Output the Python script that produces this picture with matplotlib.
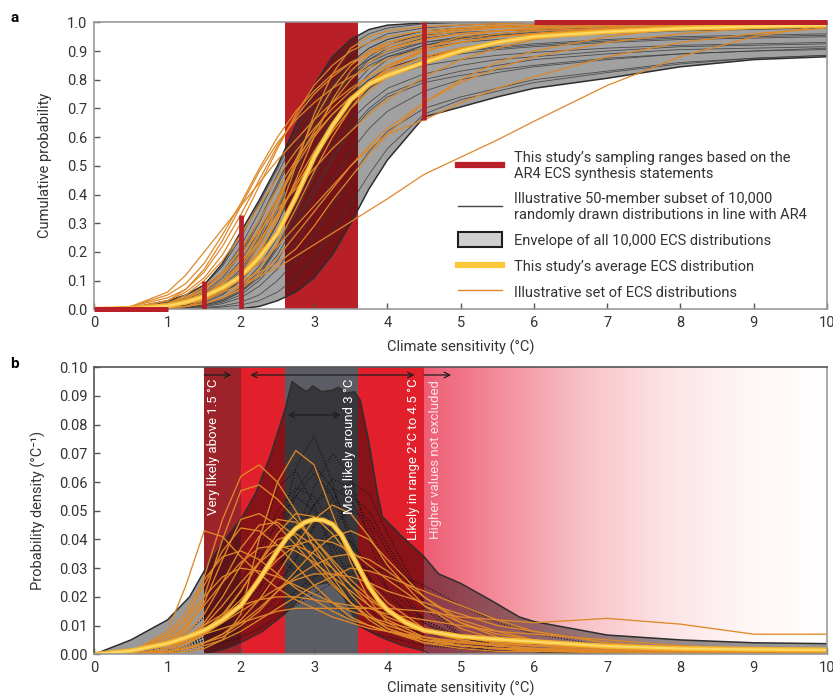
import numpy as np
import matplotlib
matplotlib.use('Agg')
import matplotlib.pyplot as plt
from matplotlib.patches import Patch
from matplotlib.lines import Line2D
from matplotlib.colors import LinearSegmentedColormap

plt.rcParams['font.family'] = ['Roboto', 'DejaVu Sans']
plt.rcParams['font.size'] = 10

# common grid of climate sensitivity values (degC) the curves were read at
ecs = [0, 0.5, 1, 1.25, 1.5, 1.75, 2, 2.25, 2.5, 2.75, 3, 3.25, 3.5, 3.75, 4,
       4.5, 5, 5.5, 6, 7, 8, 9, 10]

# ---- panel a: cumulative probability ----
env_cdf_hi = [0, 0.005, 0.03, 0.05, 0.085, 0.16, 0.27, 0.38, 0.50, 0.64, 0.78, 0.88,
              0.94, 0.975, 0.99, 0.998, 1, 1, 1, 1, 1, 1, 1]
env_cdf_lo = [0, 0, 0, 0, 0, 0, 0.002, 0.01, 0.03, 0.06, 0.11, 0.19, 0.30, 0.42,
              0.52, 0.67, 0.705, 0.74, 0.77, 0.805, 0.845, 0.87, 0.88]

gray_cdf = [
    [0, 0.004, 0.025, 0.05, 0.085, 0.15, 0.25, 0.37, 0.49, 0.62, 0.75, 0.85, 0.92, 0.96, 0.98, 0.995, 1, 1, 1, 1, 1, 1, 1],
    [0, 0.003, 0.02, 0.04, 0.07, 0.12, 0.20, 0.31, 0.44, 0.57, 0.69, 0.79, 0.86, 0.91, 0.94, 0.97, 0.98, 0.985, 0.99, 0.995, 1, 1, 1],
    [0, 0.002, 0.015, 0.03, 0.055, 0.10, 0.17, 0.27, 0.39, 0.52, 0.64, 0.74, 0.81, 0.86, 0.89, 0.93, 0.95, 0.96, 0.97, 0.98, 0.985, 0.99, 0.99],
    [0, 0.002, 0.01, 0.02, 0.04, 0.075, 0.13, 0.22, 0.34, 0.48, 0.61, 0.72, 0.80, 0.85, 0.88, 0.91, 0.93, 0.94, 0.95, 0.96, 0.97, 0.975, 0.98],
    [0, 0.001, 0.008, 0.015, 0.03, 0.06, 0.11, 0.19, 0.30, 0.43, 0.56, 0.67, 0.75, 0.80, 0.84, 0.88, 0.90, 0.915, 0.925, 0.94, 0.95, 0.955, 0.96],
    [0, 0.001, 0.005, 0.01, 0.02, 0.04, 0.08, 0.15, 0.25, 0.38, 0.51, 0.62, 0.71, 0.77, 0.81, 0.85, 0.87, 0.885, 0.895, 0.91, 0.92, 0.925, 0.93],
    [0, 0.001, 0.004, 0.008, 0.015, 0.03, 0.06, 0.11, 0.19, 0.30, 0.42, 0.53, 0.63, 0.70, 0.75, 0.80, 0.83, 0.85, 0.87, 0.89, 0.905, 0.91, 0.915],
    [0, 0, 0.002, 0.005, 0.01, 0.02, 0.04, 0.08, 0.14, 0.23, 0.34, 0.45, 0.55, 0.63, 0.69, 0.76, 0.80, 0.825, 0.845, 0.87, 0.89, 0.90, 0.905],
    [0, 0.003, 0.02, 0.035, 0.06, 0.10, 0.16, 0.24, 0.35, 0.48, 0.61, 0.73, 0.82, 0.88, 0.92, 0.96, 0.975, 0.985, 0.99, 0.995, 1, 1, 1],
    [0, 0.002, 0.012, 0.025, 0.045, 0.08, 0.14, 0.23, 0.36, 0.50, 0.64, 0.76, 0.85, 0.90, 0.93, 0.955, 0.965, 0.97, 0.975, 0.98, 0.985, 0.99, 0.99],
    [0, 0.001, 0.006, 0.012, 0.025, 0.05, 0.10, 0.18, 0.30, 0.45, 0.60, 0.72, 0.81, 0.87, 0.91, 0.945, 0.96, 0.97, 0.975, 0.98, 0.985, 0.985, 0.99],
    [0, 0.001, 0.005, 0.01, 0.02, 0.035, 0.065, 0.12, 0.21, 0.33, 0.47, 0.60, 0.70, 0.77, 0.82, 0.87, 0.89, 0.905, 0.915, 0.93, 0.94, 0.945, 0.95],
    [0, 0.002, 0.01, 0.02, 0.035, 0.065, 0.11, 0.18, 0.28, 0.40, 0.53, 0.65, 0.75, 0.82, 0.87, 0.92, 0.945, 0.955, 0.965, 0.975, 0.98, 0.985, 0.99],
    [0, 0.001, 0.003, 0.006, 0.012, 0.025, 0.05, 0.10, 0.17, 0.28, 0.40, 0.52, 0.62, 0.69, 0.74, 0.79, 0.815, 0.835, 0.85, 0.875, 0.89, 0.90, 0.91],
    [0, 0, 0.001, 0.003, 0.006, 0.012, 0.025, 0.05, 0.10, 0.17, 0.26, 0.36, 0.46, 0.55, 0.62, 0.70, 0.74, 0.77, 0.80, 0.83, 0.86, 0.875, 0.885],
    [0, 0, 0, 0.002, 0.004, 0.008, 0.015, 0.03, 0.06, 0.11, 0.18, 0.27, 0.37, 0.47, 0.56, 0.68, 0.73, 0.76, 0.79, 0.825, 0.855, 0.875, 0.885],
    [0, 0.002, 0.012, 0.025, 0.05, 0.09, 0.15, 0.25, 0.38, 0.53, 0.67, 0.78, 0.86, 0.91, 0.94, 0.97, 0.98, 0.985, 0.99, 0.99, 0.995, 1, 1],
    [0, 0.001, 0.008, 0.016, 0.03, 0.055, 0.10, 0.17, 0.27, 0.40, 0.54, 0.67, 0.77, 0.84, 0.88, 0.92, 0.94, 0.95, 0.96, 0.97, 0.975, 0.98, 0.985],
    [0, 0.001, 0.004, 0.008, 0.016, 0.03, 0.06, 0.12, 0.22, 0.36, 0.51, 0.64, 0.74, 0.80, 0.84, 0.88, 0.90, 0.91, 0.92, 0.935, 0.945, 0.95, 0.955],
    [0, 0.002, 0.015, 0.03, 0.06, 0.11, 0.19, 0.30, 0.43, 0.56, 0.68, 0.77, 0.83, 0.87, 0.90, 0.93, 0.945, 0.955, 0.96, 0.97, 0.975, 0.98, 0.98],
    [0, 0.001, 0.005, 0.01, 0.02, 0.04, 0.075, 0.13, 0.22, 0.34, 0.46, 0.57, 0.66, 0.72, 0.77, 0.82, 0.85, 0.87, 0.88, 0.90, 0.915, 0.92, 0.925],
    [0, 0.003, 0.02, 0.04, 0.075, 0.13, 0.22, 0.34, 0.47, 0.60, 0.72, 0.82, 0.89, 0.93, 0.96, 0.98, 0.99, 0.995, 1, 1, 1, 1, 1],
]

orange_cdf = [
    [0, 0.01, 0.05, 0.09, 0.16, 0.26, 0.37, 0.49, 0.60, 0.69, 0.76, 0.82, 0.86, 0.89, 0.91, 0.94, 0.96, 0.97, 0.975, 0.985, 0.99, 0.995, 1],
    [0, 0.01, 0.04, 0.07, 0.13, 0.22, 0.33, 0.45, 0.57, 0.67, 0.75, 0.81, 0.86, 0.89, 0.92, 0.95, 0.97, 0.98, 0.985, 0.99, 0.995, 1, 1],
    [0, 0.01, 0.06, 0.12, 0.20, 0.28, 0.36, 0.44, 0.52, 0.59, 0.66, 0.72, 0.77, 0.81, 0.85, 0.90, 0.93, 0.95, 0.96, 0.975, 0.985, 0.99, 0.995],
    [0, 0.005, 0.03, 0.06, 0.11, 0.19, 0.30, 0.43, 0.56, 0.68, 0.78, 0.85, 0.90, 0.93, 0.95, 0.97, 0.98, 0.985, 0.99, 0.995, 1, 1, 1],
    [0, 0.003, 0.02, 0.04, 0.07, 0.12, 0.19, 0.28, 0.39, 0.51, 0.62, 0.72, 0.80, 0.86, 0.90, 0.94, 0.96, 0.97, 0.98, 0.99, 0.995, 1, 1],
    [0, 0.002, 0.01, 0.02, 0.04, 0.07, 0.12, 0.20, 0.31, 0.45, 0.60, 0.73, 0.83, 0.89, 0.93, 0.96, 0.975, 0.985, 0.99, 0.995, 1, 1, 1],
    [0, 0.003, 0.015, 0.03, 0.06, 0.10, 0.16, 0.24, 0.33, 0.43, 0.53, 0.62, 0.70, 0.76, 0.81, 0.87, 0.91, 0.93, 0.95, 0.97, 0.98, 0.99, 0.995],
    [0, 0.002, 0.01, 0.02, 0.03, 0.06, 0.11, 0.19, 0.32, 0.50, 0.68, 0.82, 0.91, 0.95, 0.97, 0.985, 0.99, 0.995, 1, 1, 1, 1, 1],
    [0, 0.003, 0.02, 0.04, 0.08, 0.13, 0.21, 0.31, 0.42, 0.52, 0.61, 0.68, 0.74, 0.79, 0.83, 0.88, 0.91, 0.93, 0.95, 0.97, 0.98, 0.985, 0.99],
    [0, 0.002, 0.01, 0.02, 0.04, 0.07, 0.11, 0.16, 0.22, 0.29, 0.36, 0.43, 0.50, 0.56, 0.61, 0.66, 0.72, 0.77, 0.81, 0.88, 0.93, 0.96, 0.98],
    [0, 0, 0.01, 0.02, 0.035, 0.06, 0.085, 0.115, 0.145, 0.185, 0.225, 0.265, 0.305, 0.345, 0.385, 0.47, 0.53, 0.59, 0.655, 0.78, 0.88, 0.95, 0.99],
    [0, 0.002, 0.01, 0.025, 0.05, 0.09, 0.15, 0.23, 0.33, 0.44, 0.55, 0.65, 0.73, 0.79, 0.84, 0.90, 0.93, 0.95, 0.96, 0.98, 0.99, 0.995, 1],
    [0, 0.001, 0.005, 0.01, 0.02, 0.04, 0.08, 0.14, 0.23, 0.35, 0.48, 0.60, 0.70, 0.78, 0.84, 0.91, 0.95, 0.97, 0.98, 0.99, 1, 1, 1],
    [0, 0.005, 0.03, 0.07, 0.14, 0.24, 0.36, 0.48, 0.58, 0.66, 0.72, 0.77, 0.81, 0.84, 0.87, 0.91, 0.94, 0.96, 0.97, 0.98, 0.99, 0.995, 1],
    [0, 0.001, 0.005, 0.01, 0.02, 0.04, 0.07, 0.12, 0.18, 0.26, 0.34, 0.42, 0.50, 0.57, 0.63, 0.72, 0.79, 0.84, 0.88, 0.93, 0.96, 0.98, 0.99],
    [0, 0.001, 0.005, 0.01, 0.03, 0.06, 0.12, 0.22, 0.36, 0.52, 0.66, 0.77, 0.85, 0.90, 0.93, 0.96, 0.98, 0.99, 0.99, 1, 1, 1, 1],
    [0, 0.004, 0.02, 0.05, 0.10, 0.17, 0.26, 0.36, 0.46, 0.55, 0.63, 0.70, 0.76, 0.81, 0.85, 0.90, 0.93, 0.95, 0.96, 0.98, 0.99, 0.99, 1],
    [0, 0.002, 0.01, 0.02, 0.05, 0.09, 0.16, 0.26, 0.38, 0.50, 0.60, 0.68, 0.74, 0.79, 0.83, 0.88, 0.91, 0.93, 0.95, 0.97, 0.98, 0.99, 0.995],
    [0, 0.002, 0.01, 0.02, 0.04, 0.07, 0.10, 0.13, 0.16, 0.21, 0.29, 0.38, 0.46, 0.54, 0.61, 0.72, 0.80, 0.86, 0.90, 0.95, 0.98, 0.99, 1],
    [0, 0.003, 0.015, 0.035, 0.07, 0.12, 0.19, 0.27, 0.35, 0.42, 0.49, 0.56, 0.62, 0.68, 0.73, 0.81, 0.87, 0.91, 0.94, 0.97, 0.985, 0.99, 1],
]

mean_cdf = [0, 0.003, 0.012, 0.025, 0.045, 0.075, 0.115, 0.18, 0.265, 0.39, 0.53, 0.64,
            0.73, 0.785, 0.815, 0.86, 0.90, 0.93, 0.95, 0.967, 0.979, 0.985, 0.99]

# AR4 sampling ranges: (x, y0, y1) for vertical marks, (x0, x1, y) for horizontal
range_vbars = [(1.5, 0, 0.1), (2.0, 0, 0.33), (4.5, 0.66, 1.0)]
range_hbars = [(0, 1, 0.0), (6, 10, 1.0)]
range_block = (2.6, 3.6)

# ---- panel b: probability density (values x 1e-3) ----
env_pdf_x = [0, 0.5, 1.0, 1.3, 1.5, 1.75, 2.0, 2.2, 2.4, 2.6, 2.7, 2.8, 2.9, 2.98, 3.1,
             3.25, 3.33, 3.45, 3.55, 3.63, 3.75, 3.85, 3.93, 4.2, 4.5, 4.7, 5.0, 5.4,
             5.8, 6.0, 7.0, 8.0, 9.0, 10.0]
env_pdf_hi = [0, 5, 12, 20, 29, 39, 47, 56, 69, 85, 95, 93, 91.5, 93.5, 91.5, 92, 93,
              91, 91.5, 88.5, 73.5, 58, 48, 41, 34, 28, 24.7, 19, 13, 11.4, 6.7, 5, 4, 3.7]
env_pdf_lo_x = [0, 1.5, 1.8, 2.0, 2.3, 2.6, 2.8, 3.0, 3.2, 3.4, 3.6, 3.9, 4.2, 4.45, 4.6, 10]
env_pdf_lo = [0, 0, 2, 4, 8, 14, 19, 24, 25, 20, 10, 6, 3, 1.5, 0, 0]

gray_pdf = [
    [0, 0, 1, 2, 4, 7, 12, 22, 40, 65, 76, 60, 38, 22, 12, 5, 2, 1, 1, 0, 0, 0, 0],
    [0, 0, 1, 2, 3, 6, 10, 17, 28, 42, 58, 70, 62, 40, 22, 8, 3, 1, 1, 0, 0, 0, 0],
    [0, 0, 1, 2, 4, 8, 14, 25, 40, 55, 63, 55, 40, 26, 15, 6, 3, 1, 1, 0, 0, 0, 0],
    [0, 0, 1, 2, 4, 7, 12, 20, 30, 42, 52, 58, 54, 42, 28, 11, 4, 2, 1, 0, 0, 0, 0],
    [0, 0, 1, 3, 6, 11, 20, 33, 47, 55, 50, 38, 26, 16, 10, 4, 2, 1, 1, 0, 0, 0, 0],
    [0, 0, 1, 2, 3, 5, 8, 13, 20, 28, 37, 45, 50, 47, 36, 16, 6, 3, 1, 0, 0, 0, 0],
    [0, 0, 2, 4, 8, 15, 25, 37, 45, 44, 36, 27, 19, 13, 8, 4, 2, 1, 1, 0, 0, 0, 0],
    [0, 0, 1, 3, 6, 10, 16, 23, 31, 37, 40, 38, 33, 27, 20, 11, 5, 3, 2, 1, 0, 0, 0],
    [0, 1, 3, 7, 13, 21, 30, 35, 34, 29, 23, 17, 12, 8, 6, 3, 2, 1, 1, 0, 0, 0, 0],
    [0, 0, 1, 1, 2, 4, 6, 9, 13, 17, 21, 25, 28, 30, 29, 24, 17, 11, 7, 3, 1, 1, 0],
    [0, 0, 1, 2, 5, 10, 20, 38, 58, 64, 52, 35, 22, 13, 8, 4, 2, 1, 1, 0, 0, 0, 0],
    [0, 0, 1, 2, 3, 5, 8, 12, 17, 22, 27, 30, 31, 30, 27, 22, 17, 12, 8, 4, 2, 1, 1],
    [0, 0, 1, 2, 4, 7, 11, 18, 28, 40, 52, 61, 58, 45, 30, 12, 5, 2, 1, 0, 0, 0, 0],
    [0, 0, 1, 3, 5, 9, 16, 27, 42, 57, 66, 58, 42, 27, 16, 6, 2, 1, 1, 0, 0, 0, 0],
    [0, 0, 1, 2, 4, 6, 10, 16, 24, 34, 45, 54, 60, 56, 42, 18, 6, 2, 1, 0, 0, 0, 0],
    [0, 1, 2, 4, 8, 13, 20, 29, 38, 45, 48, 45, 39, 31, 23, 12, 6, 3, 2, 1, 0, 0, 0],
    [0, 0, 1, 3, 6, 12, 22, 36, 50, 58, 55, 45, 33, 22, 14, 6, 3, 1, 1, 0, 0, 0, 0],
    [0, 0, 1, 2, 3, 5, 9, 15, 23, 33, 44, 52, 55, 50, 38, 18, 7, 3, 1, 0, 0, 0, 0],
]

orange_pdf = [
    [0, 0.5, 8, 24, 43, 41, 34, 28, 23, 19, 16, 13, 11, 9, 8, 6, 4.5, 3.5, 3, 2, 1.5, 1, 1],
    [0, 1, 4, 10, 27, 47, 62, 66, 60, 50, 37, 27, 18, 12, 8, 4, 3, 2, 1.5, 1, 1, 0.5, 0.5],
    [0, 1, 3, 8, 20, 40, 57, 59, 54, 47, 40, 33, 26, 20, 15, 9, 6, 4, 3, 2, 1, 1, 0.5],
    [0, 0, 0.5, 1, 2, 5, 14, 40, 60, 71, 66, 49, 32, 19, 11, 5, 3, 2, 1.5, 1, 0.5, 0.5, 0.5],
    [0, 0, 1, 2, 4, 7, 12, 19, 28, 38, 47, 52, 49, 41, 31, 17, 9, 5, 3, 2, 1, 1, 0.5],
    [0, 1, 4, 9, 18, 33, 47, 49, 45, 38, 31, 24, 18, 13, 10, 6, 4, 3, 2, 1, 1, 1, 0.5],
    [0, 0, 2, 4, 8, 14, 22, 32, 42, 49, 48, 42, 34, 25, 18, 9, 5, 3, 2, 1, 1, 0.5, 0.5],
    [0, 1, 6, 13, 24, 36, 44, 43, 38, 31, 24, 18, 13, 10, 8, 5, 3, 2, 2, 1, 1, 1, 1],
    [0, 0, 2, 5, 11, 20, 31, 41, 47, 46, 40, 32, 24, 17, 12, 6, 3, 2, 1, 1, 0.5, 0.5, 0.5],
    [0, 0, 2, 4, 8, 13, 19, 26, 33, 38, 40, 39, 36, 31, 26, 17, 11, 7, 5, 2, 1, 1, 0.5],
    [0, 1, 5, 10, 17, 25, 32, 37, 38, 36, 32, 27, 22, 17, 13, 8, 5, 3, 2, 1, 1, 0.5, 0.5],
    [0, 0, 1, 2, 4, 7, 11, 16, 22, 27, 31, 34, 35, 33, 29, 20, 12, 8, 5, 2, 1, 0.5, 0.5],
    [0, 0, 1, 3, 7, 13, 22, 32, 40, 42, 38, 30, 21, 14, 9, 4, 2, 1, 1, 0.5, 0, 0, 0],
    [0, 1, 3, 6, 10, 14, 17, 19, 20, 20, 19, 18, 17, 16, 14, 12, 10, 8, 7, 5, 3, 2, 1],
    [0, 1, 6, 12, 20, 27, 30, 29, 27, 24, 21, 18, 15, 13, 11, 8, 6, 5, 4, 3, 2, 1.5, 1],
    [0, 1, 3, 5, 7, 9, 11, 13, 15, 16, 16, 16, 16, 16, 16, 15, 13, 12, 11, 12.5, 10.5, 7, 7],
    [0, 0, 1, 2, 4, 6, 10, 15, 22, 29, 36, 41, 43, 40, 33, 20, 11, 6, 3, 1, 1, 0.5, 0.5],
    [0, 0, 2, 5, 10, 17, 25, 32, 37, 38, 35, 30, 24, 19, 15, 9, 6, 4, 3, 2, 1, 1, 0.5],
    [0, 0, 2, 4, 7, 11, 15, 19, 23, 26, 28, 28, 27, 25, 22, 18, 14, 10, 8, 4, 2, 1, 1],
    [0, 1, 3, 7, 14, 25, 37, 45, 46, 41, 33, 25, 18, 13, 9, 5, 3, 2, 1, 1, 0.5, 0.5, 0.5],
    [0, 0, 1, 2, 3, 5, 8, 12, 16, 20, 24, 27, 30, 29, 27, 22, 17, 12, 8, 4, 2, 1, 0.5],
    [0, 1, 7, 15, 26, 34, 36, 33, 28, 23, 19, 15, 12, 10, 8, 5, 4, 3, 2, 1.5, 1, 1, 1],
]

# average distribution, read on a finer grid around its peak
mean_pdf_x = [0, 0.5, 1, 1.25, 1.5, 1.75, 2, 2.25, 2.5, 2.625, 2.75, 2.875, 3, 3.125,
              3.25, 3.375, 3.5, 3.625, 3.75, 3.875, 4, 4.25, 4.5, 5, 5.5, 6, 7, 8, 9, 10]
mean_pdf = [0, 1.2, 3.8, 5.8, 8.3, 12, 17, 26, 36, 40.5, 43.8, 46, 47, 46.7, 45.3, 41.5,
            35.5, 29.5, 23.5, 19, 15.5, 11, 8.3, 6.2, 5.2, 4.4, 2.8, 2.0, 1.7, 1.5]

# AR4 statement bands behind panel b
band_edges = [1.5, 2.0, 2.6, 3.6, 4.5]
band_colors = ['#9d232a', '#e2202b', '#5c5d64', '#e2202b']
tail_start = 4.5
tail_colors = ['#ee5d74', '#f3919e', '#f8c3c8', '#fce3e5', '#fff6f6', '#ffffff']

RED = '#b81f26'
ORANGE = '#de8828'
GRAYLINE = '#3c3c3c'
TXT = '#333333'

fig = plt.figure(figsize=(8.33, 6.97), dpi=100)
ax_a = fig.add_axes([0.1132, 0.5562, 0.8796, 0.4118])
ax_b = fig.add_axes([0.1132, 0.0613, 0.8796, 0.4118])

# ----- panel a -----
ax_a.axvspan(range_block[0], range_block[1], color=RED, lw=0, zorder=0)
ax_a.fill(np.concatenate([ecs, ecs[::-1]]),
          np.concatenate([env_cdf_hi, env_cdf_lo[::-1]]),
          facecolor=(0, 0, 0, 0.37), edgecolor='#2e2e2e', lw=1.1, zorder=1)
for c in gray_cdf:
    ax_a.plot(ecs, c, color=GRAYLINE, lw=0.6, alpha=0.85, zorder=2)
for c in orange_cdf:
    ax_a.plot(ecs, c, color=ORANGE, lw=0.9, zorder=3)
ax_a.plot(ecs, mean_cdf, color='#f5b52e', lw=3.6, zorder=4, solid_capstyle='round')
ax_a.plot(ecs, mean_cdf, color='#ffd966', lw=1.6, zorder=4)
for x, y0, y1 in range_vbars:
    ax_a.plot([x, x], [y0, y1], color=RED, lw=3.4, solid_capstyle='butt', zorder=9)
for x0, x1, y in range_hbars:
    ax_a.plot([x0, x1], [y, y], color=RED, lw=3.6, solid_capstyle='butt',
              clip_on=False, zorder=9)

ax_a.set_xlim(0, 10)
ax_a.set_ylim(0, 1.0)
ax_a.set_xticks(range(11))
ax_a.set_yticks(np.arange(0, 1.01, 0.1))
ax_a.set_yticklabels(['%.1f' % v for v in np.arange(0, 1.01, 0.1)])
ax_a.set_ylabel('Cumulative probability', color=TXT, fontsize=10.5)
ax_a.yaxis.set_label_coords(-0.058, 0.5)
ax_a.set_xlabel('Climate sensitivity (°C)', color=TXT, fontsize=10.5)
ax_a.xaxis.set_label_coords(0.5, -0.105)

handles = [Line2D([], [], color=RED, lw=4.5),
           Line2D([], [], color='#444444', lw=1.0),
           Patch(facecolor='#cfcfd1', edgecolor='#1e1e1e', lw=1.5),
           Line2D([], [], color='#fcc83a', lw=4.5),
           Line2D([], [], color=ORANGE, lw=1.0)]
labels = ['This study’s sampling ranges based on the\nAR4 ECS synthesis statements',
          'Illustrative 50-member subset of 10,000\nrandomly drawn distributions in line with AR4',
          'Envelope of all 10,000 ECS distributions',
          'This study’s average ECS distribution',
          'Illustrative set of ECS distributions']
leg = ax_a.legend(handles, labels, loc='lower left', bbox_to_anchor=(0.479, -0.012),
                  frameon=False, handlelength=3.0, handleheight=1.2,
                  handletextpad=0.8, labelspacing=0.72, fontsize=10.5)
for t in leg.get_texts():
    t.set_color(TXT)
    t.set_linespacing(1.2)

# ----- panel b -----
for i, col in enumerate(band_colors):
    ax_b.axvspan(band_edges[i], band_edges[i + 1], color=col, lw=0, zorder=0)
tail_cmap = LinearSegmentedColormap.from_list('tail', tail_colors)
ax_b.imshow(np.linspace(0, 1, 256).reshape(1, -1), extent=[tail_start, 10, 0, 0.1],
            aspect='auto', cmap=tail_cmap, zorder=0)

env_x = np.concatenate([env_pdf_x, env_pdf_lo_x[::-1]])
env_y = np.concatenate([env_pdf_hi, env_pdf_lo[::-1]]) * 1e-3
ax_b.fill(env_x, env_y, facecolor=(0, 0, 0, 0.4), edgecolor='none', zorder=1)
ax_b.plot(env_pdf_x, np.array(env_pdf_hi) * 1e-3, color='#2e2e2e', lw=1.1, zorder=1)
ax_b.plot(env_pdf_lo_x, np.array(env_pdf_lo) * 1e-3, color='#2e2e2e', lw=0.8, zorder=1)

for c in gray_pdf:
    ax_b.plot(ecs, np.array(c) * 1e-3, color='#141414', lw=0.8, ls=':', zorder=2)
for c in orange_pdf:
    ax_b.plot(ecs, np.array(c) * 1e-3, color=ORANGE, lw=0.95, zorder=3)
ax_b.plot(mean_pdf_x, np.array(mean_pdf) * 1e-3, color='#f5b52e', lw=3.6, zorder=4)
ax_b.plot(mean_pdf_x, np.array(mean_pdf) * 1e-3, color='#ffd966', lw=1.6, zorder=4)

# arrows and statements
arrow_kw = dict(color='#1e1e1e', lw=0.9, shrinkA=0, shrinkB=0)
ax_b.annotate('', xy=(1.87, 0.0973), xytext=(1.5, 0.0973),
              arrowprops=dict(arrowstyle='->', **arrow_kw), zorder=6)
ax_b.annotate('', xy=(4.37, 0.0973), xytext=(2.13, 0.0973),
              arrowprops=dict(arrowstyle='<->', **arrow_kw), zorder=6)
ax_b.annotate('', xy=(4.87, 0.0973), xytext=(4.5, 0.0973),
              arrowprops=dict(arrowstyle='->', **arrow_kw), zorder=6)
ax_b.annotate('', xy=(3.36, 0.0834), xytext=(2.64, 0.0834),
              arrowprops=dict(arrowstyle='<->', **arrow_kw), zorder=6)

stmt_kw = dict(rotation=90, ha='center', va='top', fontsize=9.5, zorder=7)
ax_b.text(1.63, 0.0962, 'Very likely above 1.5 °C', color='white', **stmt_kw)
ax_b.text(3.48, 0.0962, 'Most likely around 3 °C', color='white', **stmt_kw)
ax_b.text(4.36, 0.0962, 'Likely in range 2°C to 4.5 °C', color='white', **stmt_kw)
ax_b.text(4.66, 0.0955, 'Higher values not excluded', color='#fde3e6', **stmt_kw)

ax_b.set_xlim(0, 10)
ax_b.set_ylim(0, 0.1)
ax_b.set_xticks(range(11))
ax_b.set_yticks(np.arange(0, 0.101, 0.01))
ax_b.set_yticklabels(['%.2f' % v for v in np.arange(0, 0.101, 0.01)])
ax_b.set_ylabel('Probability density (°C⁻¹)', color=TXT, fontsize=10.5)
ax_b.yaxis.set_label_coords(-0.066, 0.5)
ax_b.set_xlabel('Climate sensitivity (°C)', color=TXT, fontsize=10.5)
ax_b.xaxis.set_label_coords(0.5, -0.093)

for ax in (ax_a, ax_b):
    ax.tick_params(direction='in', length=4, width=1, color='#555555',
                   labelcolor=TXT, labelsize=10.5, pad=5)
    for s in ax.spines.values():
        s.set_color('#999999')
        s.set_linewidth(1.2)
        s.set_zorder(8)
ax_b.spines['top'].set_color('#555555')
ax_b.spines['left'].set_color('#555555')

fig.text(0.017, 0.974, 'a', fontsize=11, fontweight='bold', ha='center', va='center')
fig.text(0.017, 0.478, 'b', fontsize=11, fontweight='bold', ha='center', va='center')

fig.savefig('out.png', dpi=100)
